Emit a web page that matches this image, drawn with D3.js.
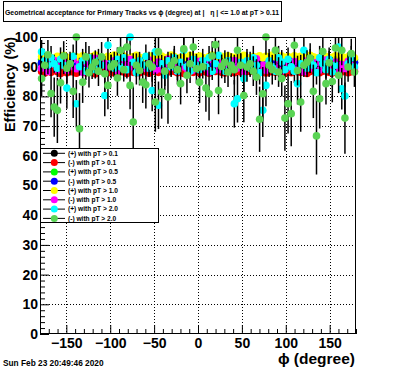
<!DOCTYPE html>
<html><head><meta charset="utf-8">
<script src="https://cdn.jsdelivr.net/npm/d3@7"></script>
<style>
body{margin:0;background:#fff;}
svg{display:block;font-family:"Liberation Sans",Arial,sans-serif;font-weight:bold;}
</style></head>
<body><svg id="c" width="396" height="372"></svg>
<script>
const titleText = "Geometrical acceptance for Primary Tracks vs \u03d5 (degree) at |\u00a0\u00a0\u00a0\u03b7 | <= 1.0 at pT > 0.11";
const xTitle = "\u03d5 (degree)";
const yTitle = "Efficiency (%)";
const dateText = "Sun Feb 23 20:49:46 2020";
const xMajorTicks = [-150,-100,-50,0,50,100,150];
const yMajorTicks = [0,10,20,30,40,50,60,70,80,90,100];
const seriesNames = ["(+) with pT > 0.1","(-) with pT > 0.1","(+) with pT > 0.5","(-) with pT > 0.5",
  "(+) with pT > 1.0","(-) with pT > 1.0","(+) with pT > 2.0","(-) with pT > 2.0"];
const seriesColors = ["#000000","#ff0000","#00ff00","#0000ff","#ffff00","#ff00ff","#00ffff","#59d454"];
const binCenters = d3.range(100).map(i => -178.2 + 3.6*i);

const s1 = [91.2,91.5,90.8,91.9,91.3,90.6,91.7,92.0,91.1,90.9,91.6,91.4,90.7,91.8,92.1,91.0,91.3,90.5,91.9,91.2,
91.5,90.8,91.7,91.1,92.0,91.4,90.6,91.8,91.3,91.0,91.6,92.2,91.2,90.9,91.5,91.7,90.8,91.4,92.0,91.1,
91.3,90.7,91.9,91.5,91.0,91.8,91.2,90.6,91.6,92.1,91.4,90.9,91.7,91.2,91.0,91.8,92.0,91.3,90.7,91.5,
91.1,91.9,91.4,90.8,91.6,92.2,91.0,91.3,91.7,90.9,91.5,91.2,92.0,91.4,90.6,91.8,91.1,91.6,90.9,91.3,
91.7,92.1,91.0,91.5,90.8,91.9,91.2,91.4,90.7,91.6,92.0,91.3,91.1,91.8,90.9,91.5,91.2,91.7,90.8,91.4];
const s2 = [88.4,87.9,88.6,88.1,88.8,88.3,87.7,88.5,88.0,88.9,88.2,87.8,88.7,88.4,88.0,88.6,88.1,87.6,88.5,88.9,
88.3,88.0,88.7,87.9,88.4,88.8,88.2,87.7,88.6,88.1,88.5,88.0,88.9,88.3,87.8,88.4,88.7,88.1,88.6,87.9,
88.2,88.8,88.4,88.0,88.5,87.7,88.9,88.3,88.1,88.6,88.0,88.7,88.2,87.8,88.5,88.4,88.9,88.1,87.9,88.6,
88.3,88.0,88.8,88.2,87.7,88.5,88.4,88.9,88.0,88.3,88.7,87.9,88.2,88.6,88.1,88.8,88.4,87.8,88.5,88.0,
88.9,88.3,88.1,88.6,87.7,88.4,88.8,88.2,88.0,88.5,88.7,88.1,87.9,88.4,88.6,88.2,88.8,88.0,88.3,88.5];
const s3 = [92.4,92.0,92.7,92.2,91.8,92.6,92.3,92.9,92.1,91.9,92.5,92.8,92.2,92.0,92.6,92.4,91.7,92.3,92.9,92.1,
92.5,92.0,92.7,92.3,91.8,92.6,92.2,92.8,92.4,92.0,92.3,92.7,91.9,92.5,92.1,92.8,92.4,92.0,92.6,92.2,
92.9,92.3,92.0,92.5,92.7,92.1,91.8,92.4,92.6,92.2,92.0,92.8,92.3,92.5,91.9,92.7,92.1,92.4,92.9,92.2,
92.6,92.0,92.4,92.8,92.1,92.3,91.7,92.5,92.7,92.0,92.3,92.9,92.2,92.6,92.0,92.4,92.8,92.1,91.9,92.5,
92.7,92.2,92.4,92.0,92.6,92.3,92.8,91.8,92.5,92.1,92.4,92.7,92.0,92.6,92.2,92.9,92.3,92.1,92.5,92.4];
const s4 = [91.3,91.9,91.0,91.6,92.2,91.4,90.8,91.7,91.2,92.0,91.5,90.9,91.8,91.1,92.1,91.6,91.3,90.7,91.9,91.4,
92.0,91.2,91.7,90.9,91.5,92.2,91.1,91.8,91.3,90.8,91.6,92.1,91.0,91.4,91.9,91.2,90.7,91.7,92.0,91.5,
91.1,91.8,91.3,92.2,90.9,91.6,91.4,91.0,91.9,91.2,91.7,90.8,92.1,91.5,91.1,91.8,91.3,92.0,90.9,91.6,
91.2,91.9,91.4,90.7,91.7,92.2,91.0,91.5,91.8,91.3,90.9,91.6,92.0,91.1,91.4,91.9,91.2,90.8,91.7,92.1,
91.5,91.0,91.8,91.3,92.2,91.6,90.9,91.4,91.9,91.1,91.7,92.0,91.3,90.8,91.6,91.2,91.8,91.5,90.9,91.4];
const s5 = [93.4,92.9,93.6,93.1,92.7,93.5,93.0,93.8,93.2,92.8,93.6,93.3,92.9,93.7,93.1,92.6,93.4,93.9,93.0,93.2,
92.8,93.5,93.3,93.9,92.9,93.1,93.6,93.0,92.7,93.4,93.8,93.2,92.9,93.5,93.1,93.7,92.8,93.3,93.6,93.0,
93.2,93.9,93.4,92.7,93.1,93.5,93.0,93.8,92.9,93.3,93.6,93.1,92.8,93.4,93.9,93.2,92.7,93.5,93.0,93.7,
93.3,92.9,93.6,93.1,93.8,93.0,92.8,93.4,93.2,93.7,92.9,93.5,93.1,93.9,93.3,92.7,93.6,93.0,93.4,92.8,
93.7,93.2,93.5,92.9,93.1,93.8,93.3,93.0,92.7,93.6,93.4,92.9,93.2,93.7,93.1,93.5,92.8,93.3,93.9,93.0];
const s6 = [89.5,91.2,88.4,90.8,92.1,89.0,90.3,91.7,88.8,90.0,92.4,89.3,90.9,88.1,91.5,90.2,89.6,92.8,88.9,90.6,
91.1,89.8,90.4,92.0,88.6,91.3,89.2,90.7,92.5,89.9,88.3,91.0,90.1,89.4,92.2,90.5,88.7,91.6,89.1,90.8,
92.6,89.7,90.2,88.5,91.4,90.0,89.3,91.9,88.9,90.6,91.8,89.5,90.9,88.2,92.3,90.4,89.0,91.2,90.1,88.7,
90.8,92.1,89.6,90.3,88.4,91.5,89.9,90.7,92.7,89.2,90.5,88.8,91.3,89.4,90.0,92.4,88.6,91.1,89.7,90.2,
91.7,89.1,90.6,88.3,92.0,90.9,89.5,91.4,88.9,90.3,92.2,89.8,90.1,91.6,88.5,90.7,89.3,91.8,90.4,89.6];
const s7 = [95,92,90.5,93,91,89.5,92.5,90.5,82.8,91,93.5,77.5,90,92,88.5,93,91.5,89,92,90.5,
80.3,97.2,91,89.5,92.5,90,93,89,100,91.5,88,92,90.5,93.5,89.5,82,95,77,91,87.1,
92,90,93,88.5,91.5,95.5,90,88.5,92.5,90.5,89,92,90,93,88.5,91,93.8,90,88.5,92,
90.5,77.5,79.2,91.5,86,92,89.5,93,90.5,88,75.3,83.7,92,90,88.5,93,91.6,89,92.5,90,
88.5,84.3,91,95.5,89.5,92,90.5,88,93,91,89,92.5,88.2,90.5,96.6,82.6,80.1,91,93,90];
const e7 = [4,3,3,4,3,3,4,3,7,3,4,8,3,4,3,4,3,3,4,3,
7,5,3,3,4,3,4,3,6,3,4,3,3,4,3,7,5,8,3,5,
3,3,4,3,3,5,3,4,4,3,3,4,3,4,3,3,5,3,4,3,
3,8,8,3,6,4,3,4,3,4,9,7,4,3,3,4,4,3,4,3,
4,7,3,5,3,4,3,4,4,3,3,4,5,3,5,7,8,3,4,3];
const s8 = [86,90.5,94,81,76.4,75.3,84.6,93.6,89.5,91,81.7,100,69.1,84.8,93.3,88,89.9,91.5,88.5,93.3,
87.6,83.7,90,91,86.2,95.5,89,96.6,83.7,71.4,90.5,88.7,84.8,83.9,91,89.9,78.1,95,81.5,88.5,
79.8,90.5,92,89,84.3,96,87.1,91,96.6,89.3,84.8,90,82.8,80.9,93.6,97.4,82,90.1,91.5,88.2,
90.5,89,95.5,90.5,80.3,89.9,91,88.5,86.5,72.3,80.9,100,90.5,89,95.5,88.2,86,72.7,77.5,74.2,
97.2,88.7,78.1,90.5,91.5,92.9,81.7,66.7,79.2,95.1,84.3,91.3,85,96.3,87.1,95.5,72.7,89.9,94.4,88.2];
const e8 = [6,4,5,8,10,11,7,5,5,4,9,6,12,7,5,5,4,4,5,5,
6,8,4,4,6,5,4,5,8,12,4,5,7,8,4,5,10,5,9,5,
9,4,4,5,7,5,6,4,5,5,7,4,8,9,5,5,8,4,4,5,
4,5,5,4,9,5,4,5,6,11,9,6,4,5,5,5,6,11,10,11,
5,5,10,4,4,5,9,13,10,5,7,4,7,5,6,5,12,5,5,5];

const seriesValues = [s1,s2,s3,s4,s5,s6,s7,s8];
const seriesErrors = [null,null,null,null,null,null,e7,e8];

const svg = d3.select("#c");
svg.append("rect").attr("width",396).attr("height",372).attr("fill","#fff");
const L=40, R=356, T=37, B=334;
const x = d3.scaleLinear().domain([-180,180]).range([L,R]);
const y = d3.scaleLinear().domain([0,100]).range([B,T]);

// grid
const grid = svg.append("g").attr("stroke","#000").attr("stroke-width",1).attr("stroke-dasharray","1,2");
xMajorTicks.forEach(v=>grid.append("line").attr("x1",Math.round(x(v))+0.5).attr("x2",Math.round(x(v))+0.5).attr("y1",T).attr("y2",B));
yMajorTicks.filter(v=>v>0&&v<100).forEach(v=>grid.append("line").attr("y1",Math.round(y(v))+0.5).attr("y2",Math.round(y(v))+0.5).attr("x1",L).attr("x2",R));

// axes
const xAx = svg.append("g").attr("transform",`translate(0,${B})`)
  .call(d3.axisBottom(x).tickValues(xMajorTicks).tickSize(-9).tickPadding(4).tickFormat(d3.format("d")));
const xMin = svg.append("g").attr("transform",`translate(0,${B})`)
  .call(d3.axisBottom(x).tickValues(d3.range(-180,181,10).filter(v=>!xMajorTicks.includes(v))).tickSize(-5).tickFormat(""));
const yAx = svg.append("g").attr("transform",`translate(${L},0)`)
  .call(d3.axisLeft(y).tickValues(yMajorTicks).tickSize(-9).tickPadding(2).tickFormat(d3.format("d")));
const yMin = svg.append("g").attr("transform",`translate(${L},0)`)
  .call(d3.axisLeft(y).tickValues(d3.range(0,101,2).filter(v=>v%10!==0)).tickSize(-5).tickFormat(""));
[xAx,xMin,yAx,yMin].forEach(g=>{g.select(".domain").remove();g.selectAll("line").attr("stroke","#000");});
xAx.selectAll("text").attr("font-size",14).attr("font-family","Liberation Sans, Arial").attr("font-weight","bold").attr("fill","#000");
yAx.selectAll("text").attr("font-size",14).attr("font-family","Liberation Sans, Arial").attr("font-weight","bold").attr("fill","#000");

// data
const plot = svg.append("g");
seriesValues.forEach((vals,si)=>{
  const g = plot.append("g");
  const errs = seriesErrors[si];
  if(errs){
    g.selectAll("line").data(vals).join("line")
      .attr("x1",(d,i)=>x(binCenters[i])).attr("x2",(d,i)=>x(binCenters[i]))
      .attr("y1",(d,i)=>y(Math.min(100,d+errs[i]))).attr("y2",(d,i)=>y(Math.max(0,d-errs[i])))
      .attr("stroke","#000").attr("stroke-width",1.5);
  }
  g.selectAll("circle").data(vals).join("circle")
    .attr("cx",(d,i)=>x(binCenters[i])).attr("cy",d=>y(d)).attr("r",3.8)
    .attr("fill",seriesColors[si]);
});

// frame
svg.append("rect").attr("x",L+0.5).attr("y",T+0.5).attr("width",R-L-1).attr("height",B-T-1)
  .attr("fill","none").attr("stroke","#000").attr("stroke-width",1);

// legend
const lg = svg.append("g");
lg.append("rect").attr("x",40.5).attr("y",148.5).attr("width",118).attr("height",74)
  .attr("fill","#fff").attr("stroke","#000");
seriesNames.forEach((nm,i)=>{
  const cy = 153.3 + i*9.3;
  lg.append("line").attr("x1",43).attr("x2",65).attr("y1",cy).attr("y2",cy).attr("stroke","#000");
  lg.append("circle").attr("cx",54.3).attr("cy",cy).attr("r",3.5).attr("fill",seriesColors[i]);
  lg.append("text").attr("x",68).attr("y",cy+2.3).attr("font-size",6.6).attr("fill","#000").text(nm);
});

// title box
svg.append("rect").attr("x",3.5).attr("y",1.5).attr("width",278).attr("height",20)
  .attr("fill","#fff").attr("stroke","#000");
svg.append("text").attr("x",5).attr("y",14.5).attr("font-size",8).attr("textLength",274)
  .attr("lengthAdjust","spacingAndGlyphs").attr("fill","#000").text(titleText);

// axis titles
svg.append("text").attr("x",355).attr("y",364).attr("text-anchor","end").attr("font-size",15.5).text(xTitle);
svg.append("text").attr("transform","translate(15,37) rotate(-90)").attr("text-anchor","end")
  .attr("font-size",14.5).text(yTitle);
svg.append("text").attr("x",3).attr("y",366).attr("font-size",8.3).text(dateText);
</script></body></html>
